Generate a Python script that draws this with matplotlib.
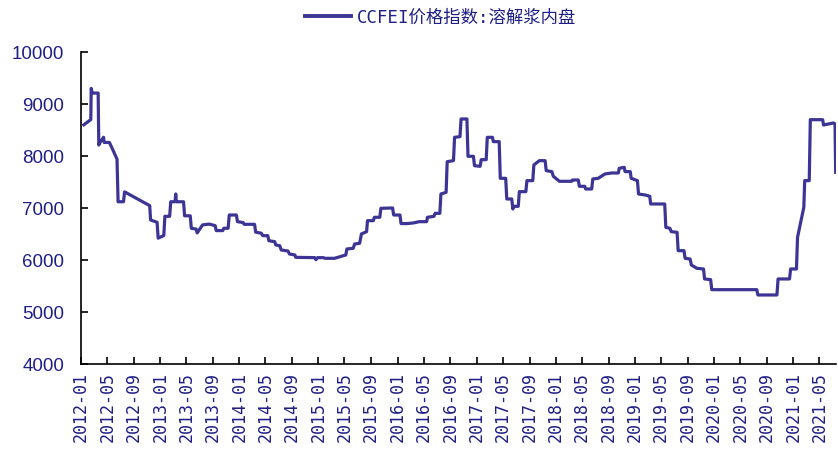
import pandas as pd
import matplotlib.pyplot as plt

# CCFEI dissolving pulp domestic price index
dates = [
    '2012-01-14', '2012-02-15', '2012-02-17', '2012-02-22', '2012-03-20', '2012-03-23',
    '2012-03-29', '2012-04-14', '2012-04-17', '2012-05-11', '2012-05-25', '2012-06-15',
    '2012-06-20', '2012-07-15', '2012-07-20', '2012-11-13', '2012-11-17', '2012-12-17',
    '2012-12-22', '2013-01-17', '2013-01-22', '2013-02-13', '2013-02-18', '2013-03-10',
    '2013-03-13', '2013-03-16', '2013-04-18', '2013-04-23', '2013-05-19', '2013-05-24',
    '2013-06-15', '2013-06-20', '2013-07-15', '2013-08-15', '2013-09-11', '2013-09-16',
    '2013-10-16', '2013-10-21', '2013-11-10', '2013-11-15', '2013-12-18', '2013-12-23',
    '2014-01-18', '2014-01-23', '2014-03-12', '2014-03-17', '2014-04-12', '2014-04-19',
    '2014-05-12', '2014-05-17', '2014-06-13', '2014-06-18', '2014-07-06', '2014-07-13',
    '2014-08-13', '2014-08-20', '2014-09-14', '2014-09-18', '2014-12-15', '2014-12-20',
    '2014-12-28', '2015-01-22', '2015-02-01', '2015-03-16', '2015-04-16', '2015-05-07',
    '2015-05-12', '2015-06-10', '2015-06-17', '2015-07-10', '2015-07-18', '2015-08-11',
    '2015-08-15', '2015-09-11', '2015-09-16', '2015-10-11', '2015-10-16', '2015-12-09',
    '2015-12-14', '2016-01-12', '2016-01-17', '2016-02-13', '2016-03-13', '2016-04-10',
    '2016-05-14', '2016-05-18', '2016-06-17', '2016-06-22', '2016-07-14', '2016-07-19',
    '2016-08-12', '2016-08-17', '2016-09-15', '2016-09-20', '2016-10-15', '2016-10-20',
    '2016-11-16', '2016-11-21', '2016-12-16', '2016-12-21', '2017-01-16', '2017-01-21',
    '2017-02-13', '2017-02-18', '2017-03-14', '2017-03-18', '2017-04-14', '2017-04-19',
    '2017-05-14', '2017-05-19', '2017-06-11', '2017-06-16', '2017-06-19', '2017-07-11',
    '2017-07-16', '2017-08-15', '2017-08-20', '2017-09-16', '2017-09-21', '2017-10-16',
    '2017-11-12', '2017-11-17', '2017-12-13', '2017-12-20', '2018-01-17', '2018-03-14',
    '2018-03-18', '2018-04-14', '2018-04-19', '2018-05-14', '2018-05-18', '2018-06-15',
    '2018-06-20', '2018-07-15', '2018-08-15', '2018-09-15', '2018-10-16', '2018-10-20',
    '2018-11-12', '2018-11-16', '2018-12-10', '2018-12-14', '2019-01-12', '2019-01-17',
    '2019-02-17', '2019-03-10', '2019-03-14', '2019-05-18', '2019-05-23', '2019-06-11',
    '2019-06-17', '2019-07-14', '2019-07-19', '2019-08-15', '2019-08-20', '2019-09-12',
    '2019-09-18', '2019-10-13', '2019-11-13', '2019-11-18', '2019-12-16', '2019-12-21',
    '2020-07-16', '2020-07-21', '2020-10-17', '2020-10-22', '2020-12-14', '2020-12-19',
    '2021-01-15', '2021-01-20', '2021-02-18', '2021-02-22', '2021-03-15', '2021-03-20',
    '2021-05-16', '2021-05-20', '2021-07-05', '2021-07-12', '2021-07-15',
]
prices = [
    8600, 8700, 9300, 9210, 9210, 8210,
    8260, 8360, 8260, 8260, 8135, 7940,
    7120, 7120, 7310, 7045, 6770, 6725,
    6420, 6470, 6840, 6840, 7120, 7120,
    7270, 7120, 7120, 6850, 6850, 6610,
    6595, 6520, 6675, 6690, 6660, 6565,
    6565, 6610, 6610, 6865, 6865, 6737,
    6720, 6686, 6686, 6535, 6515, 6468,
    6468, 6370, 6352, 6288, 6275, 6192,
    6173, 6115, 6096, 6051, 6045, 6006,
    6045, 6045, 6032, 6032, 6071, 6096,
    6212, 6224, 6308, 6321, 6500, 6545,
    6756, 6756, 6821, 6821, 6994, 7000,
    6865, 6865, 6700, 6700, 6712, 6737,
    6737, 6821, 6840, 6897, 6897, 7269,
    7301, 7891, 7910, 8359, 8372, 8712,
    8712, 7994, 7994, 7814, 7801, 7929,
    7929, 8359, 8359, 8276, 8276, 7571,
    7571, 7173, 7173, 6981, 7032, 7032,
    7314, 7314, 7526, 7526, 7827, 7910,
    7910, 7718, 7699, 7609, 7513, 7513,
    7538, 7538, 7417, 7417, 7365, 7365,
    7558, 7571, 7654, 7673, 7673, 7763,
    7782, 7699, 7699, 7571, 7526, 7269,
    7250, 7225, 7077, 7077, 6628, 6609,
    6545, 6532, 6179, 6179, 6032, 6019,
    5904, 5840, 5827, 5635, 5622, 5429,
    5429, 5327, 5327, 5635, 5635, 5827,
    5827, 6436, 7013, 7526, 7526, 8698,
    8698, 8596, 8635, 8615, 7686,
]
series_name = 'CCFEI价格指数:溶解浆内盘'
tick_dates = pd.date_range('2012-01-01', '2021-05-01', freq='4MS')
y_ticks = [4000, 5000, 6000, 7000, 8000, 9000, 10000]

line_color = '#3D3596'
text_color = '#1E1E86'

plt.rcParams['font.family'] = ['Liberation Sans', 'Noto Sans CJK SC', 'DejaVu Sans']

fig = plt.figure(figsize=(8.38, 4.56), dpi=100)
ax = fig.add_axes([0.0967, 0.1996, 0.9013, 0.6842])

x = pd.to_datetime(dates)
ax.plot(x, prices, color=line_color, linewidth=2.3, label=series_name)

ax.set_xlim(pd.Timestamp('2012-01-01'), pd.Timestamp('2021-07-18'))
ax.set_ylim(4000, 10000)
ax.set_yticks(y_ticks)
ax.set_yticklabels([str(v) for v in y_ticks], fontsize=13.5, color=text_color)
ax.set_xticks(tick_dates)
ax.set_xticklabels([d.strftime('%Y-%m') for d in tick_dates], rotation=90,
                   fontsize=12, color=text_color, family='DejaVu Sans Mono')
ax.xaxis.set_minor_locator(plt.NullLocator())

for side in ['top', 'right']:
    ax.spines[side].set_visible(False)
for side in ['left', 'bottom']:
    ax.spines[side].set_color('black')
    ax.spines[side].set_linewidth(1.2)
ax.tick_params(axis='y', direction='in', length=5, width=1.2, pad=12)
ax.tick_params(axis='x', direction='in', length=5, width=1.2, pad=5)

leg = fig.legend(loc='center', bbox_to_anchor=(0.526, 0.96), frameon=False,
                 handlelength=2.6, handletextpad=0.35,
                 prop={'family': ['DejaVu Sans Mono', 'Noto Sans CJK SC'], 'size': 12.5})
for t in leg.get_texts():
    t.set_color(text_color)
for h in leg.get_lines():
    h.set_linewidth(2.8)

fig.savefig('out.png', dpi=100)
